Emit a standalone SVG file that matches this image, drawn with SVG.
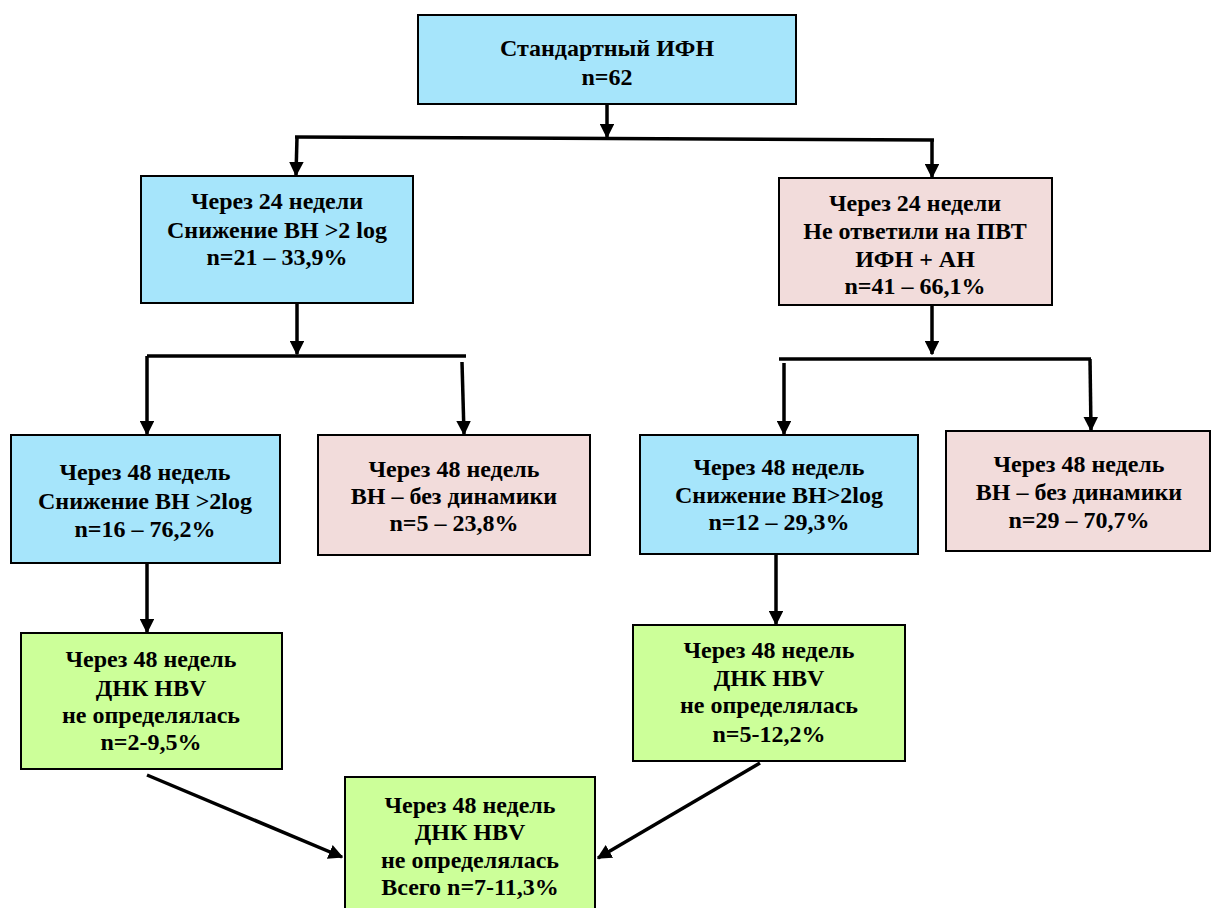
<svg xmlns="http://www.w3.org/2000/svg" width="1211" height="908" viewBox="0 0 1211 908">
<defs>
<marker id="ah" viewBox="0 0 10 10" refX="9" refY="5" markerWidth="4.2" markerHeight="4.2" markerUnits="strokeWidth" orient="auto">
<path d="M0,0 L10,5 L0,10 Z" fill="#000"/>
</marker>
<style>
.box{stroke:#000;stroke-width:2}
.blue{fill:#a6e5fb}
.pink{fill:#f2dcdb}
.green{fill:#ccff99}
.c{stroke:#000;stroke-width:3.5;fill:none}
.a{marker-end:url(#ah)}
</style>
</defs>
<rect x="0" y="0" width="1211" height="908" fill="#fff"/>
<g id="connectors">
<line class="c a" x1="607" y1="104" x2="607" y2="137"/>
<line class="c" x1="295" y1="137" x2="934" y2="140"/>
<line class="c a" x1="297" y1="137" x2="296" y2="175"/>
<line class="c a" x1="932" y1="140" x2="932" y2="177"/>
<line class="c a" x1="297" y1="303" x2="297" y2="354"/>
<line class="c" x1="147" y1="356" x2="466" y2="356"/>
<line class="c a" x1="147" y1="356" x2="147" y2="434"/>
<line class="c a" x1="462" y1="362" x2="464" y2="434"/>
<line class="c a" x1="932" y1="305" x2="932" y2="354"/>
<line class="c" x1="779" y1="359" x2="1091" y2="359"/>
<line class="c a" x1="784" y1="363" x2="784" y2="434"/>
<line class="c a" x1="1090" y1="359" x2="1091" y2="430"/>
<line class="c a" x1="147" y1="563" x2="147" y2="632"/>
<line class="c a" x1="776" y1="554" x2="776" y2="624"/>
<line class="c a" x1="147" y1="775" x2="342" y2="857"/>
<line class="c a" x1="760" y1="763" x2="598" y2="858"/>
</g>
<g font-family="Liberation Serif, 'Times New Roman', serif" font-weight="bold" font-size="24" text-anchor="middle" fill="#000">
<g id="n-top">
<rect class="box blue" x="418" y="15" width="378" height="89"/>
<text x="607" y="56">Стандартный ИФН</text>
<text x="607" y="85">n=62</text>
</g>
<g id="n-l1">
<rect class="box blue" x="141" y="176" width="272" height="127"/>
<text x="277" y="209">Через 24 недели</text>
<text x="277" y="238">Снижение ВН &gt;2 log</text>
<text x="277" y="265">n=21 – 33,9%</text>
</g>
<g id="n-r1">
<rect class="box pink" x="779" y="178" width="273" height="127"/>
<text x="915" y="211">Через 24 недели</text>
<text x="915" y="239">Не ответили на ПВТ</text>
<text x="915" y="267">ИФН + АН</text>
<text x="915" y="294">n=41 – 66,1%</text>
</g>
<g id="n-l2">
<rect class="box blue" x="11" y="435" width="269" height="128"/>
<text x="145" y="480">Через 48 недель</text>
<text x="145" y="509">Снижение ВН &gt;2log</text>
<text x="145" y="537">n=16 – 76,2%</text>
</g>
<g id="n-l2b">
<rect class="box pink" x="318" y="435" width="272" height="120"/>
<text x="454" y="477">Через 48 недель</text>
<text x="454" y="504">ВН – без динамики</text>
<text x="454" y="531">n=5 – 23,8%</text>
</g>
<g id="n-r2">
<rect class="box blue" x="640" y="435" width="278" height="119"/>
<text x="779" y="475">Через 48 недель</text>
<text x="779" y="503">Снижение ВН&gt;2log</text>
<text x="779" y="530">n=12 – 29,3%</text>
</g>
<g id="n-r2b">
<rect class="box pink" x="946" y="431" width="264" height="120"/>
<text x="1079" y="472">Через 48 недель</text>
<text x="1079" y="500">ВН – без динамики</text>
<text x="1079" y="528">n=29 – 70,7%</text>
</g>
<g id="n-l3">
<rect class="box green" x="21" y="633" width="261" height="136"/>
<text x="151" y="667">Через 48 недель</text>
<text x="151" y="696">ДНК HBV</text>
<text x="151" y="723">не определялась</text>
<text x="151" y="750">n=2-9,5%</text>
</g>
<g id="n-r3">
<rect class="box green" x="633" y="625" width="272" height="136"/>
<text x="769" y="658">Через 48 недель</text>
<text x="769" y="686">ДНК HBV</text>
<text x="769" y="713">не определялась</text>
<text x="769" y="742">n=5-12,2%</text>
</g>
<g id="n-total">
<rect class="box green" x="345" y="777" width="250" height="140"/>
<text x="470" y="813">Через 48 недель</text>
<text x="470" y="840">ДНК HBV</text>
<text x="470" y="868">не определялась</text>
<text x="470" y="895">Всего n=7-11,3%</text>
</g>
</g>
</svg>
